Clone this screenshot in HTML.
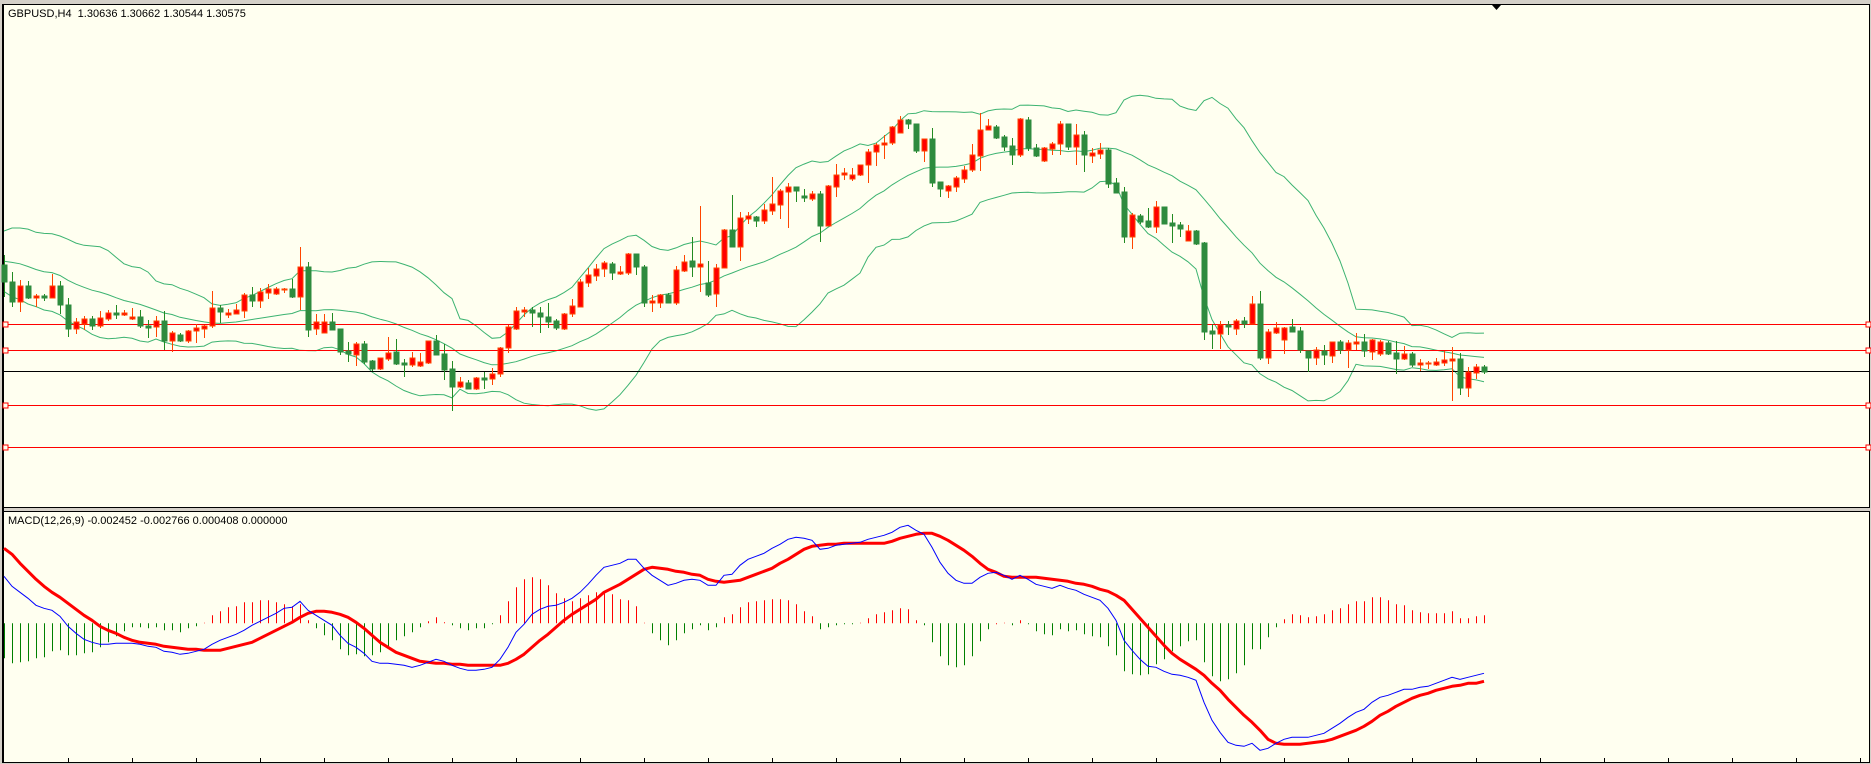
<!DOCTYPE html>
<html><head><meta charset="utf-8">
<style>
html,body{margin:0;padding:0;background:#d4d0c8;}
svg{display:block;}
text{font-family:"Liberation Sans",sans-serif;font-size:11px;fill:#000;white-space:pre;}
</style></head>
<body>
<svg id="chart" width="1871" height="764" viewBox="0 0 1871 764" xmlns="http://www.w3.org/2000/svg">
  <rect x="3.5" y="4.5" width="1866" height="503" fill="#fffff0" stroke="#000" stroke-width="1"/>
  <rect x="3.5" y="511.5" width="1866" height="251" fill="#fffff0" stroke="#000" stroke-width="1"/>
  <line x1="3" y1="4" x2="3" y2="763" stroke="#000" stroke-width="2"/>
  <g id="bands"></g>
  <g id="hlines"></g>
  <g id="candles"></g>
  <g id="macd"></g>
  <g id="xticks"></g>
  <polygon points="1492,5 1501,5 1496.5,10" fill="#000"/>
  <text x="8" y="17" xml:space="preserve">GBPUSD,H4  1.30636 1.30662 1.30544 1.30575</text>
  <text x="8" y="524">MACD(12,26,9) -0.002452 -0.002766 0.000408 0.000000</text>
</svg>
<script>
const open=[1.3163,1.3146,1.3126,1.3142,1.3130,1.3132,1.3130,1.3142,1.3123,1.3099,1.3104,1.3109,1.3102,1.3109,1.3115,1.3113,1.3109,1.3111,1.3102,1.3101,1.3107,1.3087,1.3093,1.3087,1.3097,1.3099,1.3102,1.3120,1.3113,1.3114,1.3117,1.3133,1.3127,1.3135,1.3134,1.3138,1.3139,1.3131,1.3161,1.3099,1.3095,1.3106,1.3099,1.3077,1.3073,1.3084,1.3067,1.3059,1.3069,1.3076,1.3065,1.3063,1.3062,1.3065,1.3087,1.3074,1.3059,1.3041,1.3045,1.3039,1.3050,1.3049,1.3054,1.3080,1.3099,1.3116,1.3118,1.3115,1.3111,1.3107,1.3099,1.3114,1.3121,1.3145,1.3152,1.3159,1.3164,1.3154,1.3155,1.3174,1.3161,1.3125,1.3125,1.3133,1.3125,1.3157,1.3167,1.3161,1.3145,1.3134,1.3160,1.3198,1.3181,1.3209,1.3211,1.3207,1.3217,1.3223,1.3236,1.3241,1.3232,1.3229,1.3234,1.3202,1.3241,1.3253,1.3249,1.3253,1.3263,1.3276,1.3283,1.3285,1.3295,1.3308,1.3304,1.3277,1.3289,1.3246,1.3237,1.3241,1.3249,1.3258,1.3272,1.3298,1.3301,1.3291,1.3282,1.3273,1.3308,1.3280,1.3267,1.3279,1.3284,1.3304,1.3281,1.3293,1.3272,1.3274,1.3278,1.3245,1.3236,1.3191,1.3212,1.3207,1.3201,1.3221,1.3205,1.3203,1.3187,1.3197,1.3185,1.3097,1.3094,1.3103,1.3099,1.3107,1.3104,1.3124,1.3070,1.3095,1.3088,1.3101,1.3097,1.3077,1.3070,1.3077,1.3072,1.3086,1.3078,1.3084,1.3086,1.3076,1.3074,1.3085,1.3075,1.3069,1.3074,1.3063,1.3064,1.3063,1.3065,1.3067,1.3069,1.3040,1.3055,1.3061];
const high=[1.3173,1.3156,1.3148,1.3147,1.3134,1.3134,1.3154,1.3147,1.3130,1.3110,1.3112,1.3112,1.3117,1.3118,1.3123,1.3118,1.3120,1.3118,1.3108,1.3112,1.3117,1.3097,1.3095,1.3098,1.3104,1.3103,1.3137,1.3123,1.3119,1.3124,1.3135,1.3141,1.3140,1.3144,1.3141,1.3140,1.3149,1.3181,1.3166,1.3114,1.3114,1.3115,1.3099,1.3086,1.3086,1.3087,1.3068,1.3070,1.3091,1.3089,1.3069,1.3076,1.3075,1.3087,1.3093,1.3084,1.3067,1.3051,1.3048,1.3051,1.3056,1.3060,1.3081,1.3103,1.3121,1.3121,1.3121,1.3121,1.3125,1.3109,1.3115,1.3129,1.3149,1.3160,1.3164,1.3167,1.3166,1.3162,1.3175,1.3174,1.3163,1.3133,1.3134,1.3135,1.3162,1.3173,1.3191,1.3222,1.3167,1.3164,1.3199,1.3233,1.3216,1.3216,1.3212,1.3224,1.3251,1.3239,1.3245,1.3241,1.3239,1.3237,1.3237,1.3243,1.3264,1.3260,1.3260,1.3263,1.3279,1.3285,1.3293,1.3302,1.3312,1.3309,1.3304,1.3289,1.3300,1.3246,1.3243,1.3252,1.3262,1.3284,1.3315,1.3309,1.3303,1.3293,1.3290,1.3310,1.3311,1.3284,1.3281,1.3286,1.3307,1.3304,1.3304,1.3297,1.3280,1.3285,1.3280,1.3250,1.3241,1.3215,1.3214,1.3220,1.3227,1.3221,1.3214,1.3206,1.3203,1.3198,1.3186,1.3104,1.3107,1.3107,1.3109,1.3111,1.3132,1.3137,1.3099,1.3106,1.3101,1.3109,1.3101,1.3077,1.3081,1.3083,1.3086,1.3088,1.3088,1.3095,1.3094,1.3089,1.3088,1.3087,1.3087,1.3082,1.3076,1.3069,1.3067,1.3070,1.3077,1.3081,1.3075,1.3061,1.3064,1.3063];
const low=[1.3131,1.3121,1.3116,1.3129,1.3121,1.3127,1.3130,1.3114,1.3091,1.3094,1.3098,1.3098,1.3100,1.3107,1.3109,1.3112,1.3108,1.3100,1.3090,1.3091,1.3078,1.3076,1.3086,1.3085,1.3085,1.3090,1.3100,1.3105,1.3110,1.3114,1.3110,1.3121,1.3120,1.3129,1.3133,1.3135,1.3130,1.3118,1.3091,1.3093,1.3095,1.3098,1.3073,1.3066,1.3062,1.3064,1.3057,1.3058,1.3067,1.3063,1.3051,1.3061,1.3061,1.3064,1.3073,1.3048,1.3017,1.3040,1.3039,1.3038,1.3039,1.3043,1.3051,1.3075,1.3098,1.3111,1.3101,1.3095,1.3100,1.3098,1.3098,1.3111,1.3121,1.3141,1.3147,1.3151,1.3148,1.3153,1.3153,1.3153,1.3121,1.3116,1.3120,1.3125,1.3123,1.3156,1.3151,1.3136,1.3131,1.3121,1.3160,1.3181,1.3167,1.3204,1.3201,1.3204,1.3213,1.3209,1.3200,1.3226,1.3226,1.3227,1.3186,1.3202,1.3231,1.3248,1.3247,1.3252,1.3245,1.3262,1.3269,1.3283,1.3295,1.3299,1.3275,1.3266,1.3241,1.3231,1.3230,1.3236,1.3245,1.3256,1.3257,1.3298,1.3289,1.3277,1.3263,1.3271,1.3277,1.3271,1.3266,1.3273,1.3273,1.3278,1.3263,1.3256,1.3265,1.3269,1.3240,1.3235,1.3185,1.3179,1.3204,1.3200,1.3195,1.3204,1.3185,1.3191,1.3187,1.3183,1.3088,1.3079,1.3079,1.3093,1.3093,1.3100,1.3104,1.3068,1.3064,1.3094,1.3074,1.3096,1.3075,1.3056,1.3063,1.3063,1.3065,1.3074,1.3060,1.3078,1.3071,1.3068,1.3072,1.3073,1.3054,1.3068,1.3061,1.3057,1.3059,1.3062,1.3062,1.3027,1.3033,1.3031,1.3049,1.3054];
const close=[1.3146,1.3126,1.3142,1.3130,1.3132,1.3130,1.3142,1.3123,1.3099,1.3106,1.3109,1.3102,1.3110,1.3115,1.3113,1.3115,1.3111,1.3102,1.3100,1.3107,1.3087,1.3095,1.3087,1.3097,1.3100,1.3102,1.3120,1.3116,1.3115,1.3118,1.3133,1.3127,1.3136,1.3139,1.3139,1.3139,1.3131,1.3161,1.3098,1.3106,1.3106,1.3098,1.3076,1.3074,1.3084,1.3066,1.3059,1.3070,1.3075,1.3064,1.3063,1.3070,1.3066,1.3087,1.3073,1.3058,1.3041,1.3046,1.3039,1.3050,1.3048,1.3054,1.3080,1.3101,1.3117,1.3118,1.3115,1.3111,1.3106,1.3100,1.3114,1.3122,1.3146,1.3153,1.3159,1.3165,1.3155,1.3156,1.3174,1.3161,1.3125,1.3127,1.3133,1.3125,1.3158,1.3166,1.3161,1.3164,1.3133,1.3160,1.3198,1.3181,1.3210,1.3212,1.3207,1.3218,1.3224,1.3237,1.3241,1.3237,1.3230,1.3234,1.3202,1.3242,1.3253,1.3255,1.3253,1.3263,1.3276,1.3283,1.3285,1.3301,1.3308,1.3304,1.3277,1.3289,1.3245,1.3239,1.3242,1.3250,1.3258,1.3273,1.3298,1.3302,1.3290,1.3281,1.3273,1.3309,1.3280,1.3272,1.3280,1.3284,1.3304,1.3281,1.3293,1.3273,1.3275,1.3278,1.3244,1.3235,1.3191,1.3213,1.3206,1.3201,1.3221,1.3204,1.3202,1.3199,1.3197,1.3184,1.3096,1.3094,1.3103,1.3101,1.3107,1.3104,1.3124,1.3070,1.3096,1.3100,1.3100,1.3096,1.3078,1.3070,1.3078,1.3073,1.3086,1.3078,1.3085,1.3086,1.3077,1.3088,1.3086,1.3074,1.3069,1.3074,1.3063,1.3065,1.3065,1.3066,1.3068,1.3069,1.3040,1.3056,1.3061,1.3056];
const priorClose=[1.3150,1.3170,1.3185,1.3190,1.3175,1.3160,1.3180,1.3195,1.3185,1.3170,1.3160,1.3150,1.3165,1.3175,1.3170,1.3150,1.3140,1.3155,1.3165];
const macdMain=[188,148,124,100,72,60,52,28,-12,-40,-64,-76,-84,-84,-80,-80,-80,-84,-92,-96,-112,-116,-124,-120,-112,-104,-84,-68,-56,-44,-28,-8,8,24,40,60,64,88,52,32,12,-8,-48,-80,-96,-120,-152,-160,-160,-164,-168,-176,-168,-156,-144,-152,-168,-180,-188,-188,-184,-176,-144,-96,-36,-4,36,56,68,72,84,100,124,156,192,224,232,240,256,256,220,192,172,152,160,172,176,172,152,152,192,196,232,256,268,280,300,316,336,344,340,332,296,300,312,316,320,324,336,344,352,364,384,392,372,356,304,244,200,172,160,160,184,200,204,192,176,192,176,156,148,140,152,140,132,116,104,92,60,12,-68,-108,-144,-172,-176,-192,-204,-208,-216,-228,-316,-388,-436,-476,-488,-492,-480,-508,-500,-480,-464,-456,-456,-456,-448,-440,-420,-400,-376,-356,-344,-316,-296,-288,-276,-264,-264,-256,-252,-240,-228,-216,-224,-216,-208,-200];
const macdSignal=[300,276,240,208,176,148,124,104,80,56,32,12,-12,-28,-40,-56,-68,-76,-80,-84,-92,-96,-100,-104,-104,-108,-108,-108,-100,-92,-84,-76,-60,-44,-28,-12,4,24,40,48,48,44,36,24,4,-20,-48,-76,-96,-116,-128,-140,-152,-156,-160,-160,-164,-164,-168,-168,-168,-168,-168,-160,-144,-124,-96,-68,-44,-16,12,36,56,76,96,124,140,156,176,196,216,224,220,216,208,204,196,192,176,168,164,168,172,184,196,208,220,240,256,276,296,308,312,316,316,320,320,320,320,320,320,328,340,348,356,360,360,348,332,312,292,268,240,216,204,188,184,184,184,184,180,176,172,168,160,156,148,136,128,112,92,56,20,-16,-52,-88,-120,-144,-164,-184,-208,-240,-268,-304,-336,-368,-396,-428,-464,-480,-484,-484,-484,-480,-476,-472,-464,-452,-440,-428,-412,-392,-368,-352,-332,-316,-300,-288,-280,-268,-260,-252,-248,-240,-240,-232];
const macdHist=[-140,-160,-156,-152,-140,-136,-112,-108,-128,-128,-120,-116,-96,-76,-52,-32,-16,-16,-20,-16,-28,-28,-36,-20,-12,2,32,48,64,68,84,84,92,92,84,76,68,76,12,-20,-48,-68,-104,-128,-124,-132,-128,-116,-96,-68,-52,-36,-16,8,24,4,-8,-20,-28,-20,-20,-4,32,88,144,176,184,176,152,120,100,88,100,112,124,128,116,96,92,68,2,-40,-68,-88,-68,-40,-24,-8,-28,-16,24,36,64,84,88,92,96,96,92,76,48,28,-24,-16,-8,-4,-4,2,20,36,44,52,60,56,12,-8,-76,-132,-168,-176,-168,-132,-72,-24,0,2,-8,12,-4,-32,-44,-48,-24,-32,-28,-44,-52,-56,-92,-128,-192,-204,-208,-204,-164,-144,-112,-92,-72,-68,-156,-212,-232,-224,-200,-168,-104,-104,-56,-16,16,36,32,24,28,36,52,60,76,88,88,104,104,92,76,72,52,44,40,40,40,48,20,20,28,32];
const levels=[1.3104,1.3078,1.3023,1.2981];
const currentLevel=1.3057;
const tickEvery=8;

const NS='http://www.w3.org/2000/svg';
const X0=4, DX=8;
const xAt=i=>X0+DX*i;
const yPrice=p=>(1.3428-p)*10000;
const yMacd=v=>623.3-v/4;
function mk(tag,attrs,parent){const e=document.createElementNS(NS,tag);for(const k in attrs)e.setAttribute(k,attrs[k]);parent.appendChild(e);return e;}
const gB=document.getElementById('bands'),gH=document.getElementById('hlines'),gC=document.getElementById('candles'),gM=document.getElementById('macd'),gX=document.getElementById('xticks');

levels.forEach((lv,k)=>{
  const y=Math.round(yPrice(lv))+0.5;
  const l=mk('line',{x1:4,x2:1868,y1:y,y2:y,stroke:'#ff0000','stroke-width':1},gH);
  
  
  [3,1866].forEach(x=>{
    const r=mk('rect',{x:x,y:y-2.5,width:5,height:5,fill:'#fffff0',stroke:'#ff0000','stroke-width':1},gH);
    
    
  });
});
{
  const y=Math.round(yPrice(currentLevel))+0.5;
  const l=mk('line',{x1:4,x2:1869,y1:y,y2:y,stroke:'#000','stroke-width':1},gH);
  
  
}

const all=priorClose.concat(close);
const up=[],mid=[],lo=[];
for(let i=0;i<close.length;i++){
  const w=all.slice(i+priorClose.length-19,i+priorClose.length+1);
  const m=w.reduce((a,b)=>a+b,0)/w.length;
  const sd=Math.sqrt(w.reduce((a,b)=>a+(b-m)*(b-m),0)/w.length);
  mid.push(m);up.push(m+2*sd);lo.push(m-2*sd);
}
[['upper',up],['middle',mid],['lower',lo]].forEach(([n,arr])=>{
  const p=mk('polyline',{points:arr.map((v,i)=>xAt(i)+','+yPrice(v).toFixed(1)).join(' '),fill:'none',stroke:'#3cb371','stroke-width':1},gB);
  
  
});

for(let i=0;i<close.length;i++){
  const x=xAt(i)+0.5, bull=close[i]>=open[i];
  const g=mk('g',{},gC);
  
  
  mk('line',{x1:x,x2:x,y1:yPrice(high[i]),y2:yPrice(low[i]),stroke:bull?'#ff4500':'#228b22','stroke-width':1},g);
  const t=yPrice(Math.max(open[i],close[i])),b=yPrice(Math.min(open[i],close[i]));
  mk('rect',{x:xAt(i)-2,y:t,width:5,height:Math.max(1,b-t),fill:bull?'#ff0000':'#2e8b3e',stroke:bull?'#ff4500':'#2e8b3e','stroke-width':1},g);
}

for(let i=0;i<macdHist.length;i++){
  const x=xAt(i)+0.5, v=macdHist[i];
  const l=mk('line',{x1:x,x2:x,y1:yMacd(0),y2:yMacd(v)+(v===0?1:0),stroke:v>=0?'#ff0000':'#008000','stroke-width':1},gM);
  
  
}
{
  const s=mk('polyline',{points:macdSignal.map((v,i)=>xAt(i)+','+yMacd(v).toFixed(1)).join(' '),fill:'none',stroke:'#ff0000','stroke-width':3,'stroke-linejoin':'round'},gM);
  
  
  const m=mk('polyline',{points:macdMain.map((v,i)=>xAt(i)+','+yMacd(v).toFixed(1)).join(' '),fill:'none',stroke:'#0000ff','stroke-width':1},gM);
  
  
}

for(let i=8;xAt(i)<1868;i+=tickEvery){
  const x=xAt(i)+0.5;
  const t=mk('line',{x1:x,x2:x,y1:758,y2:763,stroke:'#000','stroke-width':1},gX);
  
  
}
</script>
</body></html>
